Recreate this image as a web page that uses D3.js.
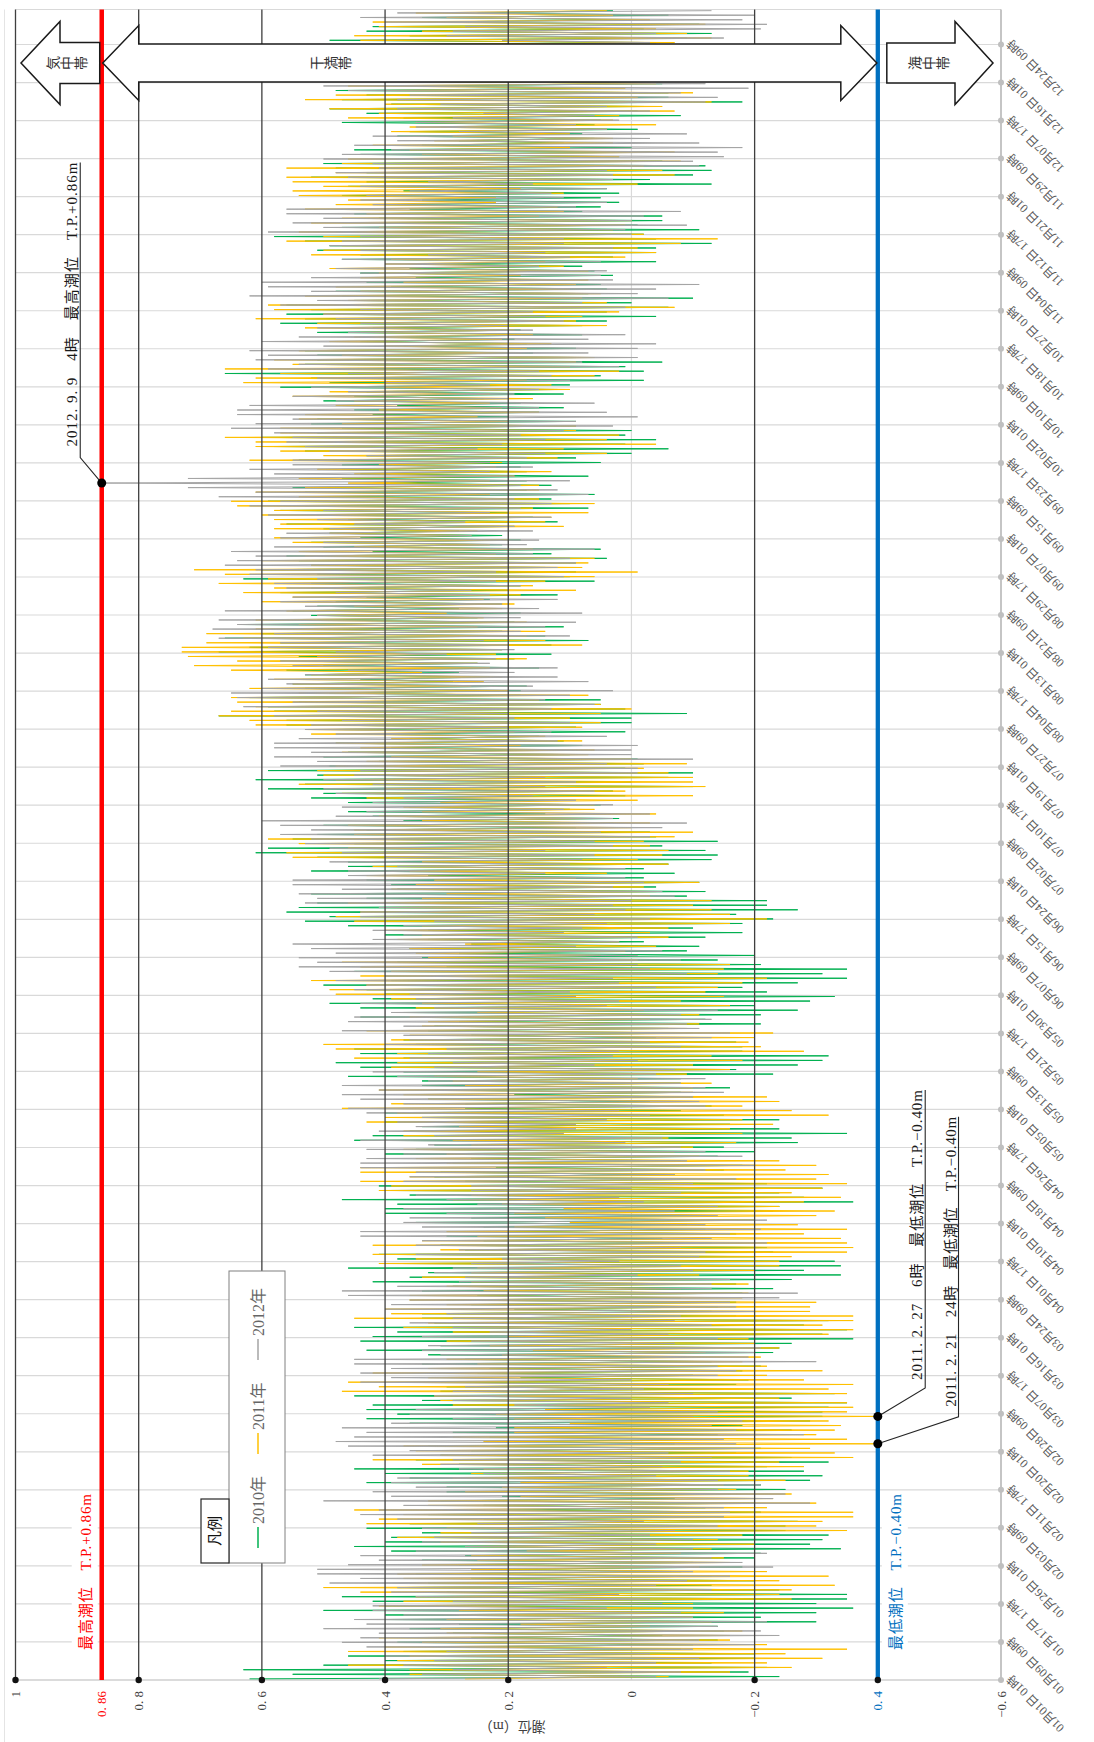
<!DOCTYPE html>
<html>
<head>
<meta charset="utf-8">
<script src="https://d3js.org/d3.v7.min.js"></script>
<style>
  body { margin: 0; background: #fff; }
  svg text { font-family: "Liberation Serif", "Noto Sans CJK JP", serif; white-space: pre; }
</style>
</head>
<body>
<div id="container"></div>
<script>
/* Data (daily high / low of each year, cm) */
/* ======================================== */

var hi2010 = [
  62,55,63,50,40,46,37,27,38,26,29,36,28,40,40,50,40,42,47,30,38,33,26,35,23,28,34,27,39,45,40,
  39,34,43,36,24,33,20,24,31,21,30,30,43,36,40,45,28,35,31,26,33,19,23,29,22,36,43,38,43,
  42,34,45,31,30,31,18,25,23,34,27,33,43,31,44,42,38,45,32,34,34,19,26,30,25,34,29,42,36,33,46,
  37,38,41,27,31,24,30,20,24,35,26,40,40,38,47,36,39,41,27,32,31,22,29,26,40,35,32,45,42,36,
  34,40,34,40,27,27,33,19,32,34,34,46,37,44,48,37,44,45,35,37,26,33,32,28,44,37,44,49,42,40,43,
  50,39,40,45,30,38,34,28,36,26,33,40,33,46,53,49,56,54,51,43,52,38,39,43,33,52,46,46,51,61,
  59,45,55,51,43,50,37,42,46,36,46,52,50,59,53,61,51,59,49,41,50,46,39,48,36,45,48,56,56,67,58,
  59,54,62,49,53,55,44,53,56,50,57,54,67,62,57,66,60,52,63,51,52,55,51,48,43,57,52,52,63,51,60,
  52,54,56,42,50,52,44,49,50,56,46,51,57,53,59,51,53,55,40,47,44,47,47,54,43,53,58,54,60,51,
  47,52,51,42,45,38,50,45,43,57,49,52,66,48,53,51,51,53,37,44,41,51,42,57,53,56,52,56,45,47,48,
  39,43,35,44,36,33,47,44,51,49,53,58,48,47,40,41,45,36,40,34,47,37,46,43,52,43,48,50,37,44,
  45,34,28,38,36,31,47,37,43,49,39,47,43,48,34,32,37,22,34,33,32,44,36,44,49,36,43,42,33,34,25
];
var lo2010 = [
  -24,-19,-22,-13,-20,-20,-8,-10,-14,-5,-15,-14,-30,-21,-30,-36,-30,-35,-35,-24,-13,-20,-13,-8,-18,-10,-20,-21,-34,-29,-31,
  -32,-25,-25,-27,-15,-21,-12,-20,-7,-16,-25,-21,-29,-31,-28,-22,-32,-26,-17,-21,-7,-14,-14,-26,-18,-29,-31,-31,-32,
  -35,-26,-33,-15,-17,-19,-10,-18,-21,-13,-9,-23,-24,-26,-36,-31,-35,-28,-32,-17,-13,-14,-17,-8,-18,-23,-17,-26,-34,-28,-34,
  -33,-20,-23,-22,-13,-5,-17,-12,-9,-20,-12,-23,-24,-36,-28,-24,-31,-22,-17,-7,-15,-18,-8,-14,-20,-15,-27,-26,-35,-24,
  -16,-24,-15,-8,-13,-3,-10,-8,-16,-8,-8,-23,-17,-27,-31,-32,-18,-18,-17,-4,-10,-6,-21,-12,-21,-27,-20,-29,-33,-22,-18,
  -27,-35,-31,-35,-21,-14,-20,-9,-11,-2,-12,-18,-10,-18,-23,-17,-27,-22,-22,-9,-12,-4,-11,-2,-7,-2,-6,-13,-14,-12,
  -5,-14,-4,-3,9,3,2,14,10,5,12,1,3,-10,0,-6,-10,1,-2,-1,10,15,8,11,15,1,9,0,0,-9,1,
  5,5,18,18,17,29,23,28,15,25,19,13,21,13,7,14,21,11,19,25,18,28,21,23,12,20,18,6,10,9,14,
  9,4,13,5,21,18,21,28,19,12,16,20,7,10,13,6,17,13,17,7,17,18,5,9,0,-6,1,-4,1,0,
  9,9,20,15,11,18,24,11,12,10,-2,5,-2,1,-5,9,16,9,17,19,8,18,8,4,-4,4,-6,0,-10,7,4,
  5,14,3,6,8,-4,3,-4,-4,-13,-4,-2,-11,-1,-5,-5,8,5,2,5,2,4,-13,-3,-10,-13,-12,-5,2,-3,
  0,11,6,8,-1,6,5,-8,-1,-2,-18,-6,-6,5,-5,-5,-1,3,-2,5,-6,-2,-16,-4,-9,-13,-2,-11,1,-6,3
];

var hi2011 = [
  27,36,36,46,38,36,46,40,34,41,30,31,18,30,28,28,41,37,35,44,50,36,37,38,26,34,25,26,17,27,31,
  38,31,30,43,41,37,45,33,33,18,27,21,18,29,26,24,34,42,31,35,37,24,29,19,19,10,19,22,14,
  29,31,32,47,41,46,33,42,33,25,30,21,16,23,30,20,29,37,33,45,39,40,30,36,36,24,30,26,34,26,25,
  41,35,42,31,42,34,25,30,19,10,14,19,11,21,29,26,41,39,44,36,44,44,30,35,30,37,26,29,37,37,
  28,43,40,38,47,39,33,37,41,27,29,32,25,39,38,45,38,48,50,39,36,43,34,33,36,25,35,34,39,48,49,
  43,52,44,39,44,47,33,35,36,27,38,34,40,34,45,48,44,40,46,34,30,39,35,32,43,36,42,34,55,56,
  46,54,59,45,45,46,34,41,34,37,31,43,47,40,54,48,50,51,48,43,39,47,44,48,39,52,53,61,62,67,65,
  61,64,65,54,62,55,58,52,65,71,64,72,73,73,69,63,69,61,54,61,51,56,45,60,55,63,58,67,59,66,71,
  52,60,53,54,45,55,58,49,58,57,58,60,58,64,65,54,61,53,46,54,45,51,41,62,50,57,61,61,66,57,
  57,47,54,53,41,48,45,55,49,40,63,61,57,66,55,58,47,54,40,49,45,44,53,51,61,50,58,59,46,53,44,
  48,37,44,41,49,40,39,52,50,47,56,50,54,41,52,47,43,53,48,46,54,55,50,55,56,48,56,47,46,34,
  36,42,32,29,39,36,35,46,41,49,40,53,48,40,46,35,28,33,40,31,39,45,39,50,44,45,34,41,42,30,35
];
var lo2011 = [
  -6,-16,-26,-22,-31,-25,-35,-22,-16,-16,-18,-3,-13,-10,-15,-10,-10,-26,-24,-26,-33,-24,-32,-22,-11,-16,-15,-8,-13,-20,-14,
  -18,-35,-30,-31,-36,-36,-22,-30,-23,-26,-17,-15,-25,-19,-19,-28,-24,-36,-33,-29,-40,-35,-30,-33,-34,-32,-40,-35,-36,
  -35,-24,-35,-32,-36,-28,-22,-31,-22,-18,-21,-12,-24,-20,-19,-32,-36,-31,-36,-36,-29,-29,-30,-18,-19,-8,-19,-11,-11,-20,-24,
  -24,-26,-35,-36,-35,-34,-28,-35,-27,-20,-30,-33,-24,-28,-34,-26,-31,-35,-30,-32,-25,-30,-24,-11,-7,-10,-17,-6,-18,-16,
  -23,-18,-32,-26,-18,-24,-22,-10,-10,-13,-1,-9,-16,-10,-18,-13,-28,-21,-19,-20,-23,-9,-11,-3,-11,-2,-16,-8,-15,-12,-14,
  -18,-22,-14,-15,-16,-1,5,1,-4,2,-6,-3,-6,-16,-22,-16,-13,-10,-13,-3,-4,-2,-11,9,4,7,-6,-1,-5,-6,
  -3,-2,-7,-10,0,-3,7,-4,6,6,-1,-10,1,-12,-10,-10,-6,-2,-9,0,7,6,18,8,14,19,8,5,10,5,0,
  5,15,7,20,26,24,21,34,23,25,17,22,21,8,14,17,14,25,17,24,30,21,19,24,18,9,16,14,6,-1,8,
  7,6,22,16,23,20,26,25,11,14,13,7,16,6,15,23,15,15,23,19,13,22,21,12,4,11,-4,4,2,9,
  9,20,25,15,21,23,16,23,10,13,17,6,2,10,9,6,18,17,13,21,16,19,4,9,8,2,-7,4,8,5,10,
  9,7,18,7,11,14,1,-4,-1,-8,-14,-2,3,1,0,15,11,12,22,22,11,18,-1,3,-7,-5,-2,-8,2,-7,
  10,3,3,10,4,-4,3,2,-7,-5,-13,-1,-10,1,-4,-3,-3,10,6,0,-7,5,-10,-7,-13,-9,-4,-12,-3,3,4
];

var hi2012 = [
  41,34,29,37,32,40,30,43,47,44,41,50,43,45,37,42,42,29,35,39,38,49,44,51,51,46,41,44,35,27,34,
  32,26,34,25,38,44,41,37,50,39,42,35,39,38,24,28,31,29,42,36,46,48,45,43,47,39,29,36,35,
  19,29,32,29,27,44,39,44,39,45,45,31,34,33,26,34,23,29,36,29,30,40,39,36,46,47,38,28,27,32,29,
  26,21,35,28,35,34,44,44,34,37,36,30,37,25,30,35,26,26,37,36,35,44,44,43,37,43,33,44,32,41,
  35,38,34,43,46,37,44,47,41,47,33,38,42,32,29,36,33,30,40,36,37,47,37,46,45,39,32,44,35,36,45,
  43,48,40,49,54,51,54,48,52,55,42,37,42,37,32,44,44,41,53,51,54,47,55,55,46,46,38,49,40,47,
  49,53,52,57,52,57,60,48,43,47,42,37,48,50,42,50,45,44,57,51,58,52,58,58,54,48,53,52,47,58,51,
  63,55,64,65,60,56,59,53,46,55,57,51,48,59,57,67,58,68,64,67,51,66,53,57,55,48,56,58,51,62,61,
  66,64,61,65,58,50,57,56,49,45,51,59,50,62,57,67,61,72,86,72,58,62,55,55,43,49,53,56,55,58,
  65,61,55,64,64,62,48,55,46,52,40,51,46,59,54,61,59,62,50,60,54,46,51,44,48,50,44,57,51,62,52,
  59,60,52,44,48,40,47,33,44,49,47,44,59,50,55,50,56,56,42,44,43,36,44,33,46,48,41,42,50,47,
  39,45,38,42,28,35,35,29,24,38,31,38,36,46,50,38,41,39,29,34,21,25,31,22,21,30,29,27,40,44,38
];
var lo2012 = [
  -4,-8,4,-4,-11,-3,-10,-20,-11,-24,-21,-14,-22,-10,-8,4,-5,-3,2,-13,-4,-9,-16,-10,-23,-18,-13,-22,-10,-4,-10,
  -3,-7,-14,-2,-15,-16,-15,-29,-23,-25,-14,-21,-14,-4,-16,-5,-8,-13,-6,-20,-17,-15,-28,-17,-13,-18,-10,-14,-3,
  -6,0,-10,-2,-6,0,-14,-17,-14,-30,-19,-20,-21,-7,-14,-6,0,-13,-7,-8,-20,-17,-16,-24,-27,-13,-13,-16,-1,-10,-8,
  2,-11,-12,-8,-22,-13,-16,-21,-12,-22,-14,-7,-14,-2,2,-8,0,-10,-17,-7,-12,-20,-9,-18,-12,-8,1,-5,11,9,
  9,4,-3,2,-12,-11,-10,-15,-12,-8,-12,-4,-7,6,-1,3,2,-8,-3,-13,-16,-11,-9,-13,-8,-14,4,2,9,10,-4,
  2,3,-9,-3,-1,-8,-1,-5,9,2,-1,11,8,4,-3,6,1,3,0,-7,-5,3,-2,1,14,1,10,8,6,14,
  3,6,-3,5,-5,-9,3,-3,11,3,9,16,6,14,9,14,-1,-1,4,-10,0,0,-1,12,4,13,20,10,19,20,13,
  6,14,10,3,16,7,12,19,12,23,22,30,19,20,24,10,18,14,9,18,8,15,21,12,23,26,18,22,11,22,12,
  9,10,16,6,17,15,26,16,19,27,13,23,18,13,19,7,12,18,10,19,23,16,23,17,14,25,21,14,18,11,
  3,9,-1,4,15,6,20,19,15,23,10,13,15,2,8,-1,7,-1,-4,7,1,16,20,11,14,16,1,8,-6,-1,-4,
  -11,3,5,4,15,5,10,14,3,11,11,0,1,-9,0,-2,-8,9,4,11,13,4,16,3,3,4,-11,-10,-15,-14,
  -18,-11,-3,-9,4,9,2,6,-3,4,-12,-14,-8,-19,-12,-12,-12,-5,-13,-6,-3,2,-9,-3,-15,-4,-21,-22,-18,-20,-13
];

var seriesNames = ["2010年", "2011年", "2012年"];
var seriesColors = ["#00b050", "#ffc000", "#a5a5a5"];

// category labels, one every 200 hours
var timeLabels = [
  "01月01日 01時","01月09日 09時","01月17日 17時","01月26日 01時","02月03日 09時","02月11日 17時",
  "02月20日 01時","02月28日 09時","03月07日 17時","03月16日 01時","03月24日 09時","04月01日 17時",
  "04月10日 01時","04月18日 09時","04月26日 17時","05月05日 01時","05月13日 09時","05月21日 17時",
  "05月30日 01時","06月07日 09時","06月15日 17時","06月24日 01時","07月02日 09時","07月10日 17時",
  "07月19日 01時","07月27日 09時","08月04日 17時","08月13日 01時","08月21日 09時","08月29日 17時",
  "09月07日 01時","09月15日 09時","09月23日 17時","10月02日 01時","10月10日 09時","10月18日 17時",
  "10月27日 01時","11月04日 09時","11月12日 17時","11月21日 01時","11月29日 09時","12月07日 17時",
  "12月16日 01時","12月24日 09時"
];
var timeTickStep = 200;
var hoursInYear = 8784;

var valueTicks = [1, 0.86, 0.8, 0.6, 0.4, 0.2, 0, -0.2, -0.4, -0.6];
var valueTickText = ["1", "0. 86", "0. 8", "0. 6", "0. 4", "0. 2", "0", "−0. 2", "0. 4", "−0. 6"];
var darkGrid = [1, 0.8, 0.6, 0.4, 0.2, -0.2];

var highLevel = 0.86, lowLevel = -0.4;
var highText = "最高潮位　T.P.+0.86m";
var lowText = "最低潮位　T.P.−0.40m";

// annotations point at one day's high or low of one series
var notes = [
  { text: "2012. 9. 9　4時　最高潮位　T.P.+0.86m", series: 2, day: 262, kind: "hi" },
  { text: "2011. 2. 27　6時　最低潮位　T.P.−0.40m", series: 1, day: 57, kind: "lo" },
  { text: "2011. 2. 21　24時　最低潮位　T.P.−0.40m", series: 1, day: 51, kind: "lo" }
];

var zones = ["気中帯", "干満帯", "海中帯"];

/* Set up */
/* ====== */

var W = 1094, H = 1742;
var hiData = [hi2010, hi2011, hi2012], loData = [lo2010, lo2011, lo2012];

var svg = d3.select('#container').append('svg')
  .attr('width', W).attr('height', H).style('display', 'block');

// chart is drawn upright (time along x) and then laid on its side
var g = svg.append('g').attr('transform', 'translate(0,' + H + ') rotate(-90)');

var x = d3.scaleLinear().domain([0, hoursInYear]).range([62, 1732.5]);
var y = d3.scaleLinear().domain([-0.6, 1]).range([1001, 15.5]);

var x0 = x.range()[0], x1 = x.range()[1], yTop = y(1), yBot = y(-0.6);
var light = "#d9d9d9";

function hline(v, color, w) {
  g.append('line').attr('x1', x0).attr('x2', x1).attr('y1', y(v)).attr('y2', y(v))
    .attr('stroke', color).attr('stroke-width', w);
}

// chart area edge
g.append('line').attr('x1', 0).attr('x2', x1).attr('y1', 4.5).attr('y2', 4.5)
  .attr('stroke', '#e4e4e4').attr('stroke-width', 1);

/* Grid */
/* ---- */

var ticks = timeLabels.map(function(d, i) { return i * timeTickStep; });

g.selectAll('.tgrid').data(ticks.concat([hoursInYear])).enter().append('line')
  .attr('x1', d => x(d)).attr('x2', d => x(d))
  .attr('y1', yTop).attr('y2', yBot)
  .attr('stroke', light).attr('stroke-width', 1.2);

hline(0, light, 1.2);
g.append('line').attr('x1', x0).attr('x2', x0).attr('y1', yTop).attr('y2', yBot)
  .attr('stroke', '#c9c9c9').attr('stroke-width', 1.2);

/* Series */
/* ------ */

var line = d3.line().x(p => x(p[0])).y(p => y(p[1]));

hiData.forEach(function(hi, s) {
  var lo = loData[s];
  var pts = [];
  hi.forEach(function(h, d) {
    pts.push([d * 24 + 6, h / 100]);
    pts.push([d * 24 + 18, lo[d] / 100]);
  });
  g.append('path').datum(pts)
    .attr('d', line)
    .attr('fill', 'none')
    .attr('stroke', seriesColors[s])
    .attr('stroke-width', 1)
    .attr('stroke-linejoin', 'round');
});

/* Axis lines and dark grid */
/* ------------------------ */

hline(-0.6, '#a6a6a6', 1.3);
darkGrid.forEach(function(v) { hline(v, '#3f3f3f', 1.3); });
hline(highLevel, '#ff0000', 4.5);
hline(lowLevel, '#0070c0', 4.3);

g.selectAll('.tdot').data(ticks).enter().append('circle')
  .attr('cx', d => x(d)).attr('cy', yBot).attr('r', 3)
  .attr('fill', '#bfbfbf');

g.selectAll('.vdot').data(darkGrid.concat([lowLevel])).enter().append('circle')
  .attr('cx', x0).attr('cy', d => y(d)).attr('r', 3.2)
  .attr('fill', '#111');

/* Axis labels */
/* ----------- */

g.selectAll('.vlab').data(valueTicks).enter().append('text')
  .attr('x', x0 - 11).attr('y', d => y(d))
  .attr('text-anchor', 'end').attr('dominant-baseline', 'central')
  .attr('font-size', 13)
  .attr('fill', d => d === highLevel ? '#ff0000' : (d === lowLevel ? '#0070c0' : '#404040'))
  .text((d, i) => valueTickText[i]);

g.selectAll('.tlab').data(ticks).enter().append('text')
  .attr('transform', d => 'translate(' + (x(d) + 3) + ',' + (yBot + 8) + ') rotate(-45)')
  .attr('text-anchor', 'end').attr('dominant-baseline', 'central')
  .attr('font-size', 12).attr('fill', '#595959')
  .text((d, i) => timeLabels[i]);

g.append('text')
  .attr('transform', 'translate(16,' + ((yTop + yBot) / 2 + 4) + ') rotate(-90)')
  .attr('text-anchor', 'middle').attr('dominant-baseline', 'central')
  .attr('font-size', 14).attr('fill', '#404040')
  .text('潮位（m）');

/* Level labels */
/* ------------ */

function levelLabel(txt, top, color) {
  g.append('rect').attr('x', 90).attr('y', top).attr('width', 160).attr('height', 26)
    .attr('fill', '#fff');
  g.append('text').attr('x', 92).attr('y', top + 19)
    .attr('font-size', 15).attr('fill', color)
    .attr('textLength', 156).attr('lengthAdjust', 'spacing')
    .text(txt);
}
levelLabel(highText, y(highLevel) - 30, '#ff0000');
levelLabel(lowText, y(lowLevel) + 4, '#0070c0');

/* Zone arrows */
/* ----------- */

var ac = 1679;
function arrow(base, tip, headLen, headHalf, shaftHalf) {
  var dir = tip > base ? 1 : -1, hb = tip - dir * headLen;
  return [[ac - shaftHalf, base], [ac - shaftHalf, hb], [ac - headHalf, hb], [ac, tip],
          [ac + headHalf, hb], [ac + shaftHalf, hb], [ac + shaftHalf, base]];
}
function arrow2(a, b, headLen, headHalf, shaftHalf) {
  return [[ac, a], [ac + headHalf, a + headLen], [ac + shaftHalf, a + headLen],
          [ac + shaftHalf, b - headLen], [ac + headHalf, b - headLen], [ac, b],
          [ac - headHalf, b - headLen], [ac - shaftHalf, b - headLen],
          [ac - shaftHalf, a + headLen], [ac - headHalf, a + headLen]];
}
var shapes = [
  arrow(y(highLevel) - 2, yTop + 5.5, 39, 41.5, 20.5),
  arrow2(y(highLevel) + 1, y(lowLevel) - 1, 36, 37.5, 19),
  arrow(y(lowLevel) + 9, yBot - 8, 38, 41.5, 20)
];
g.selectAll('.arrow').data(shapes).enter().append('polygon')
  .attr('points', d => d.map(p => p.join(',')).join(' '))
  .attr('fill', '#fff').attr('stroke', '#1a1a1a').attr('stroke-width', 1.5);

var zoneTop = [46, 310, 908];
zones.forEach(function(z, i) {
  z.split('').forEach(function(ch, k) {
    g.append('text').attr('x', ac).attr('y', zoneTop[i] + 7 + k * 14)
      .attr('text-anchor', 'middle').attr('dominant-baseline', 'central')
      .attr('font-size', 14).attr('fill', '#333')
      .text(ch);
  });
});

/* Legend */
/* ------ */

g.append('rect').attr('x', 179).attr('y', 229).attr('width', 292).attr('height', 56)
  .attr('fill', '#fff').attr('stroke', '#808080').attr('stroke-width', 1);
g.append('rect').attr('x', 179).attr('y', 201).attr('width', 64).attr('height', 28)
  .attr('fill', '#fff').attr('stroke', '#262626').attr('stroke-width', 1.2);
g.append('text').attr('x', 211).attr('y', 215)
  .attr('text-anchor', 'middle').attr('dominant-baseline', 'central')
  .attr('font-size', 15).attr('fill', '#111').text('凡例');

seriesNames.forEach(function(n, i) {
  var lx = 194 + i * 94;
  g.append('line').attr('x1', lx).attr('x2', lx + 21).attr('y1', 258).attr('y2', 258)
    .attr('stroke', seriesColors[i]).attr('stroke-width', 1.5);
  g.append('text').attr('x', lx + 24).attr('y', 258)
    .attr('dominant-baseline', 'central')
    .attr('font-size', 16).attr('fill', '#666')
    .text(n);
});

/* Annotations */
/* ----------- */

var noteOffsets = [[25.5, -21.5, 295, 284], [28.4, 47.4, 298, 290], [27, 80.7, 300, 290]];

notes.forEach(function(n, i) {
  var hour = n.day * 24 + (n.kind === 'hi' ? 6 : 18);
  var val = (n.kind === 'hi' ? hiData : loData)[n.series][n.day] / 100;
  var px = x(hour), py = y(val);
  var o = noteOffsets[i];
  var ex = px + o[0], ey = py + o[1];
  g.append('path')
    .attr('d', 'M' + px + ',' + py + 'L' + ex + ',' + ey + 'L' + (ex + o[2]) + ',' + ey)
    .attr('fill', 'none').attr('stroke', '#262626').attr('stroke-width', 1.1);
  g.append('text').attr('x', ex + o[2] - o[3]).attr('y', ey - 3)
    .attr('font-size', 15).attr('fill', '#1a1a1a')
    .attr('textLength', o[3]).attr('lengthAdjust', 'spacing')
    .text(n.text);
  g.append('circle').attr('cx', px).attr('cy', py).attr('r', 4.5).attr('fill', '#000');
});
</script>
</body>
</html>
